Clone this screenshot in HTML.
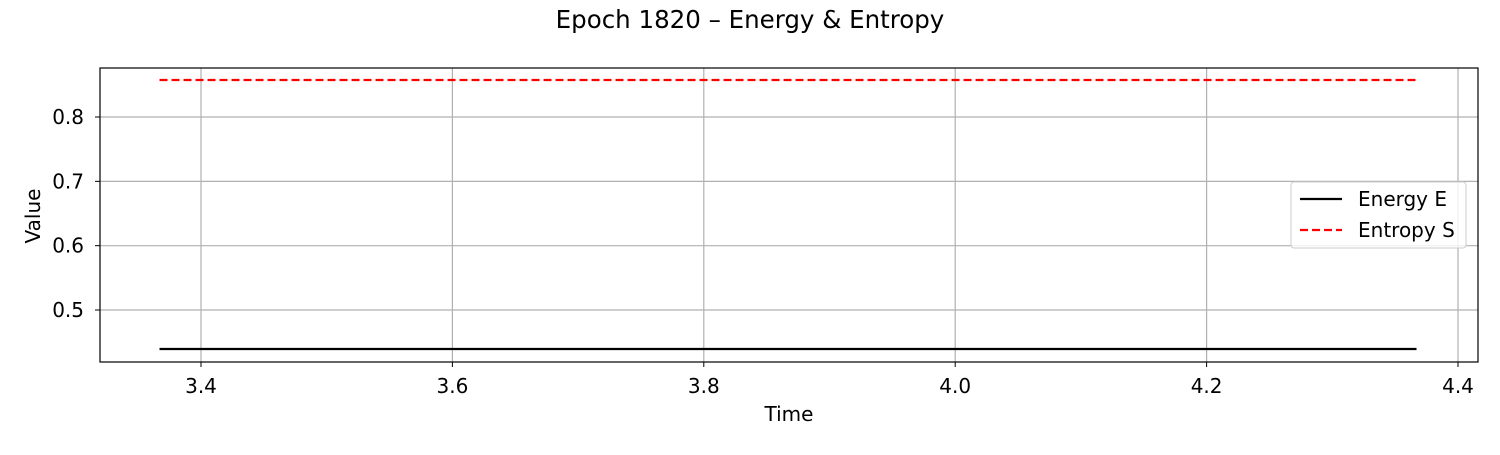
<!DOCTYPE html>
<html><head><meta charset="utf-8"><style>body{margin:0;background:#fff}svg{font-family:"DejaVu Sans","Liberation Sans",sans-serif}</style></head>
<body>
<svg id="chart" width="1500" height="450"></svg>
<script>
const times=[3.367,3.567,3.767,3.967,4.167,4.367];
const energy=[0.4394,0.4394,0.4394,0.4394,0.4394,0.4394];
const entropy=[0.8575,0.8575,0.8575,0.8575,0.8575,0.8575];
const xTicks=[3.4,3.6,3.8,4.0,4.2,4.4];
const yTicks=[0.5,0.6,0.7,0.8];
const xLabels=["3.4","3.6","3.8","4.0","4.2","4.4"];
const yLabels=["0.5","0.6","0.7","0.8"];
const L=100,R=1478,T=68,B=362;
const xs=v=>201+(v-3.4)/0.2*251.4;
const ys=v=>310-(v-0.5)/0.1*64.33;
const svg=document.getElementById('chart');
const NS='http://www.w3.org/2000/svg';
function mk(tag,attrs,parent){const e=document.createElementNS(NS,tag);for(const k in attrs)e.setAttribute(k,attrs[k]);(parent||svg).appendChild(e);return e;}
let t=mk('text',{x:750,y:28,'text-anchor':'middle','font-size':24.5});t.textContent='Epoch 1820 – Energy & Entropy';


xTicks.forEach((v,i)=>{const x=xs(v);
const g=mk('line',{x1:x,x2:x,y1:T,y2:B,stroke:'#b0b0b0','stroke-width':1.2});


mk('line',{x1:x,x2:x,y1:B,y2:B+5,stroke:'#000','stroke-width':1});
const l=mk('text',{x:x,y:393,'text-anchor':'middle','font-size':20});l.textContent=xLabels[i];

});
yTicks.forEach((v,i)=>{const y=ys(v);
const g=mk('line',{x1:L,x2:R,y1:y,y2:y,stroke:'#b0b0b0','stroke-width':1.2});


mk('line',{x1:L-5,x2:L,y1:y,y2:y,stroke:'#000','stroke-width':1});
const l=mk('text',{x:L-16,y:y+7,'text-anchor':'end','font-size':20});l.textContent=yLabels[i];

});
function line(vals,attrs,name){const d=times.map((x,i)=>(i?'L':'M')+xs(x)+' '+ys(vals[i])).join(' ');
const p=mk('path',Object.assign({d:d,fill:'none'},attrs));

}
line(energy,{stroke:'#000','stroke-width':2.2},'energy-line');
line(entropy,{stroke:'#ff0000','stroke-width':2.2,'stroke-dasharray':'8 4'},'entropy-line');
const ax=mk('rect',{x:L,y:T,width:R-L,height:B-T,fill:'none',stroke:'#000','stroke-width':1.2});


let xt=mk('text',{x:789,y:421,'text-anchor':'middle','font-size':20});xt.textContent='Time';


let yt=mk('text',{x:40,y:216,'text-anchor':'middle','font-size':20,transform:'rotate(-90 40 216)'});yt.textContent='Value';


const lg=mk('g',{});


mk('rect',{x:1291,y:182,width:175,height:66,rx:3,fill:'#fff','fill-opacity':0.8,stroke:'#ccc'},lg);
mk('line',{x1:1300,x2:1342,y1:199,y2:199,stroke:'#000','stroke-width':2.2},lg);
mk('line',{x1:1300,x2:1342,y1:230,y2:230,stroke:'#ff0000','stroke-width':2.2,'stroke-dasharray':'8 4'},lg);
let e1=mk('text',{x:1358,y:206,'font-size':20},lg);e1.textContent='Energy E';


let e2=mk('text',{x:1358,y:237,'font-size':20},lg);e2.textContent='Entropy S';


</script>
</body></html>
